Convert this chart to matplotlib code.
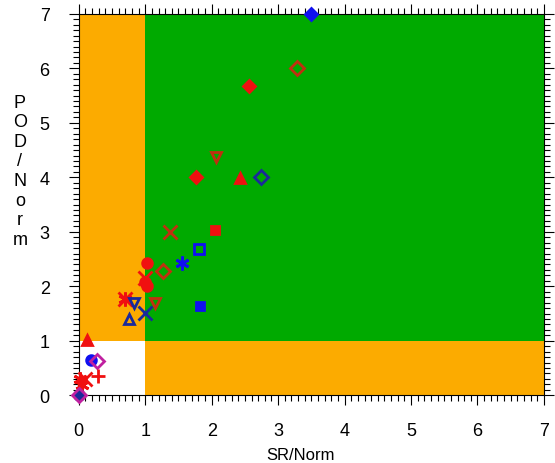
import matplotlib.pyplot as plt
from matplotlib.ticker import MultipleLocator
from matplotlib.patches import Rectangle

plt.rcParams['font.family'] = ['Liberation Sans', 'DejaVu Sans']

RED = '#f01010'
BROWN = '#c03010'
BLUE = '#1010f0'
NAVY = '#1a2a9a'
MAGENTA = '#c020a0'

# normalised scores
sr_norm = [3.49, 3.29, 2.56, 2.06, 1.76, 2.43, 2.74, 1.38, 2.05, 1.81, 1.55,
           1.03, 1.27, 1.00, 1.00, 1.02, 0.69, 0.69, 0.83, 1.14, 1.83, 0.99,
           0.76, 0.13, 0.18, 0.27, 0.29, 0.10, 0.02, 0.05, 0.00, 0.00]
pod_norm = [7.00, 6.01, 5.67, 4.38, 4.01, 3.98, 4.01, 3.00, 3.03, 2.68, 2.42,
            2.43, 2.28, 2.16, 2.08, 2.01, 1.76, 1.76, 1.69, 1.69, 1.63, 1.51,
            1.40, 1.02, 0.64, 0.62, 0.36, 0.30, 0.30, 0.18, 0.00, 0.00]
markers = ['D', 'D', 'D', 'v', 'D', '^', 'D', 'x', 's', 's', (6, 2, 0),
           'o', 'D', 'x', 'o', 'o', (6, 2, 0), 'x', 'v', 'v', 's', 'x',
           '^', '^', 'o', 'D', '+', 'x', (6, 2, 0), (6, 2, 0), 'o', 'D']
colors = [BLUE, BROWN, RED, BROWN, RED, RED, NAVY, BROWN, RED, BLUE, BLUE,
          RED, BROWN, RED, RED, RED, RED, RED, NAVY, BROWN, BLUE, NAVY,
          NAVY, RED, BLUE, MAGENTA, RED, RED, RED, RED, NAVY, MAGENTA]
filled = [True, False, True, False, True, True, False, True, True, False, True,
          True, False, True, True, True, True, True, False, False, True, True,
          False, True, True, False, True, True, True, True, True, False]

fig = plt.figure(figsize=(5.55, 4.64), dpi=100)
ax = fig.add_axes([0.142, 0.146, 0.838, 0.822])

# background regions
ax.add_patch(Rectangle((0, 1), 1, 6, color='#fcab00', lw=0, zorder=0))
ax.add_patch(Rectangle((1, 0), 6, 1, color='#fcab00', lw=0, zorder=0))
ax.add_patch(Rectangle((1, 1), 6, 6, color='#00aa00', lw=0, zorder=0))

for x, y, m, c, f in zip(sr_norm, pod_norm, markers, colors, filled):
    if m in ('x', '+', (6, 2, 0)):
        size = 10
    elif m == 's':
        size = 7 if not f else 6
    elif m == 'D' and f:
        size = 6.5
    else:
        size = 7
    ax.plot(x, y, marker=m, ms=size, color=c, mec=c,
            mfc=c if f else 'none', mew=2, ls='none', clip_on=False, zorder=3)

ax.set_xlim(0, 7)
ax.set_ylim(0, 7)
ax.xaxis.set_major_locator(MultipleLocator(1))
ax.yaxis.set_major_locator(MultipleLocator(1))
ax.xaxis.set_minor_locator(MultipleLocator(0.1))
ax.yaxis.set_minor_locator(MultipleLocator(0.1))
ax.tick_params(which='both', direction='out', top=True, right=True,
               width=0.8, labelsize=13)
ax.tick_params(which='major', length=7)
ax.tick_params(which='minor', length=4)
ax.tick_params(axis='x', pad=12)
ax.tick_params(axis='y', pad=14)
for s in ax.spines.values():
    s.set_linewidth(0.8)

fig.text(0.036, 0.63, 'P\nO\nD\n/\nN\no\nr\nm', ha='center', va='center',
         fontsize=13, linespacing=1.2)
fig.text(0.542, 0.002, 'SR/Norm', ha='center', va='bottom', fontsize=12)

fig.savefig('out.png', dpi=100)
